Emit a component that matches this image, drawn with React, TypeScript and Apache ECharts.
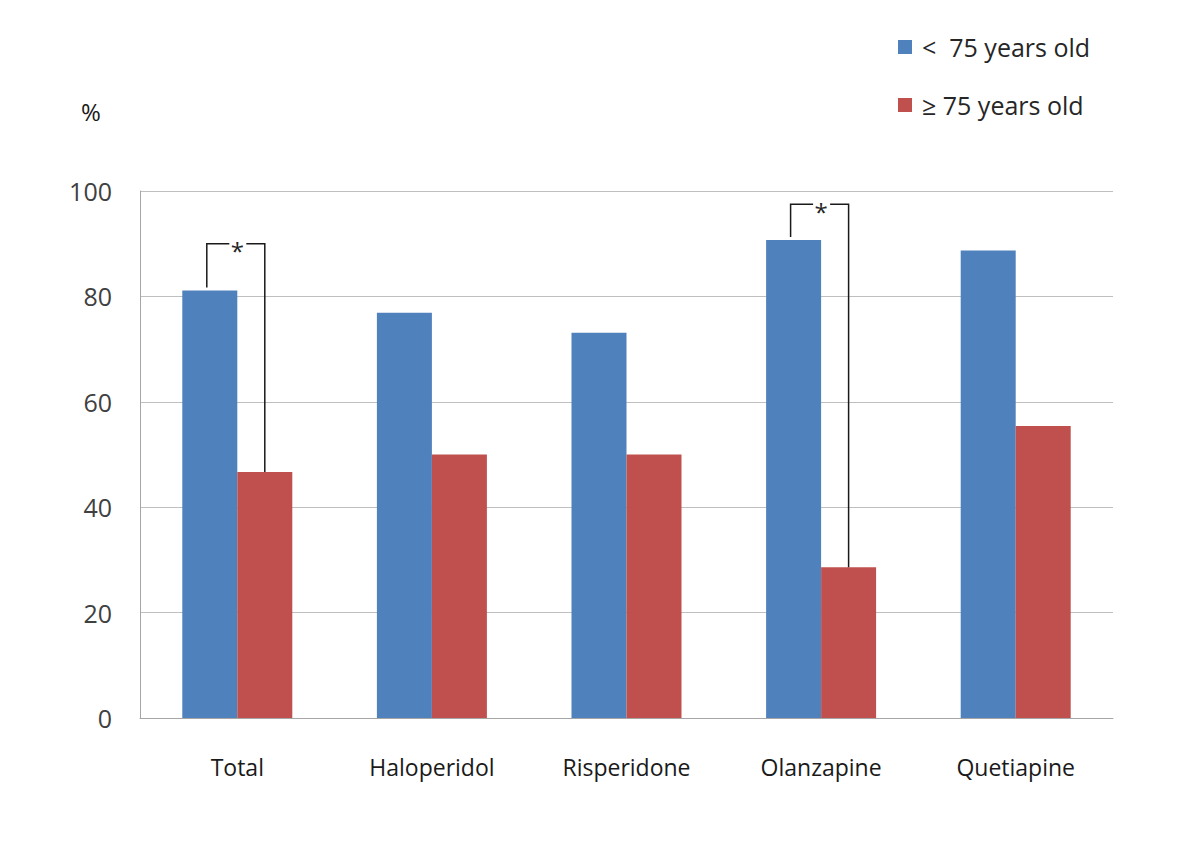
import React, { useEffect, useRef } from "react";
import * as echarts from "echarts";

const categories = ["Total", "Haloperidol", "Risperidone", "Olanzapine", "Quetiapine"];
const under75 = [81.1, 76.9, 73.1, 90.7, 88.7];
const over75 = [46.7, 50.0, 50.0, 28.6, 55.4];
const seriesNames = ["<  75 years old", "≥ 75 years old"];
const yTicks = [0, 20, 40, 60, 80, 100];
// significance brackets: [category index, bracket level]
const brackets = [
  [0, 90],
  [3, 97.5],
];

const BAR_W = 55;
const FONT = "'Open Sans', 'Noto Sans', 'DejaVu Sans', sans-serif";

export default function App() {
  const ref = useRef<HTMLDivElement>(null);
  useEffect(() => {
    if (!ref.current) return;
    const chart = echarts.init(ref.current, null, { renderer: "svg" });
    const bracketData = brackets.map(([c, lvl]) => [c, lvl, under75[c], over75[c]]);
    chart.setOption({
      animation: false,
      backgroundColor: "#ffffff",
      textStyle: { fontFamily: FONT },
      grid: { left: 140, right: 87, top: 191, bottom: 129, containLabel: false },
      legend: {
        orient: "vertical",
        left: 893,
        top: 29,
        itemWidth: 14,
        itemHeight: 14,
        itemGap: 32,
        icon: "rect",
        data: seriesNames,
        textStyle: { fontSize: 25, color: "#262626", fontFamily: FONT, padding: [0, 0, 0, 5], lineHeight: 26 },
      },
      graphic: [
        {
          type: "text",
          left: 81,
          top: 99,
          style: { text: "%", fontSize: 24, fill: "#1a1a1a", fontFamily: FONT },
        },
      ],
      xAxis: {
        type: "category",
        data: categories,
        axisLine: { show: true, lineStyle: { color: "#a6a6a6", width: 1 } },
        axisTick: { show: false },
        axisLabel: { fontSize: 23, color: "#1a1a1a", margin: 37, fontFamily: FONT },
      },
      yAxis: {
        type: "value",
        min: 0,
        max: 100,
        interval: 20,
        axisLine: { show: true, lineStyle: { color: "#a6a6a6", width: 1 } },
        axisTick: { show: false },
        splitLine: { show: true, lineStyle: { color: "#bfbfbf", width: 1 } },
        axisLabel: {
          fontSize: 25,
          color: "#404040",
          margin: 28,
          fontFamily: FONT,
          formatter: (v: number) => (yTicks.includes(v) ? String(v) : ""),
        },
      },
      series: [
        {
          name: seriesNames[0],
          type: "bar",
          data: under75,
          barWidth: BAR_W,
          barGap: "0%",
          itemStyle: { color: "#4f81bd" },
        },
        {
          name: seriesNames[1],
          type: "bar",
          data: over75,
          barWidth: BAR_W,
          barGap: "0%",
          itemStyle: { color: "#c0504d" },
        },
        {
          type: "custom",
          silent: true,
          data: bracketData,
          encode: { x: 0, y: 1 },
          z: 10,
          renderItem: (params: any, api: any) => {
            const c = api.value(0);
            const lvl = api.value(1);
            const b = api.value(2);
            const r = api.value(3);
            const top = api.coord([c, lvl]);
            const bTop = api.coord([c, b]);
            const rTop = api.coord([c, r]);
            const cx = top[0];
            const xl = cx - BAR_W / 2 - 3;
            const xr = cx + BAR_W / 2;
            const y = top[1];
            const style = { stroke: "#1a1a1a", lineWidth: 1.5, fill: "none" };
            return {
              type: "group",
              children: [
                {
                  type: "polyline",
                  shape: { points: [[xl, bTop[1] - 3], [xl, y], [cx - 8, y]] },
                  style,
                },
                {
                  type: "polyline",
                  shape: { points: [[cx + 9, y], [xr, y], [xr, rTop[1]]] },
                  style,
                },
                {
                  type: "text",
                  x: cx,
                  y: y + 7,
                  style: {
                    text: "*",
                    fontSize: 24,
                    fill: "#262626",
                    align: "center",
                    verticalAlign: "middle",
                    fontFamily: FONT,
                  },
                },
              ],
            };
          },
        },
      ],
    });
    return () => chart.dispose();
  }, []);
  return <div ref={ref} style={{ width: 1200, height: 847, margin: -8 }} />;
}
